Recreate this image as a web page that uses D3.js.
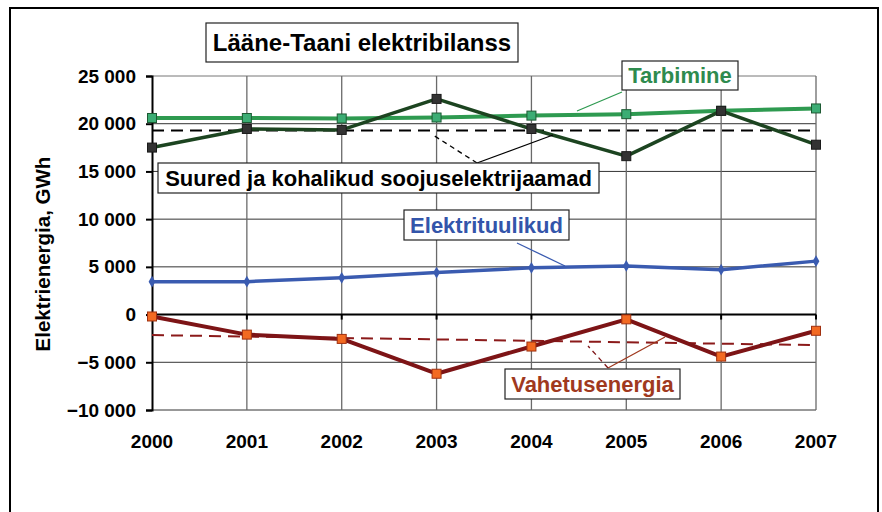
<!DOCTYPE html>
<html>
<head>
<meta charset="utf-8">
<script src="https://cdn.jsdelivr.net/npm/d3@7"></script>
<style>
  body { margin: 0; background: #fff; }
  svg { font-family: Arial, "Liberation Sans", sans-serif; font-weight: bold; }
</style>
</head>
<body>
<div id="chart"><svg></svg></div>
<script>
// data (GWh)
var years = [2000, 2001, 2002, 2003, 2004, 2005, 2006, 2007];
var tarbimine = [20600, 20600, 20550, 20650, 20850, 21000, 21350, 21600];
var soojus = [17500, 19450, 19350, 22600, 19450, 16600, 21350, 17800];
var soojusAvg = [19300, 19300];
var tuul = [3450, 3450, 3850, 4400, 4900, 5100, 4700, 5600];
var vahetus = [-200, -2100, -2550, -6200, -3350, -500, -4400, -1700];
var vahetusTrend = [-2150, -3200];
var yTicks = [25000, 20000, 15000, 10000, 5000, 0, -5000, -10000];

var width = 882, height = 512;
var svg = d3.select('#chart svg').attr('width', width).attr('height', height);

var x = d3.scalePoint().domain(years).range([152, 816]);
var y = d3.scaleLinear().domain([-10000, 25000]).range([410, 76]);

// outer frame
svg.append('rect').attr('x', 10).attr('y', 8).attr('width', 868).attr('height', 520)
  .attr('fill', 'none').attr('stroke', '#000').attr('stroke-width', 2);

// grid
svg.append('g').selectAll('line').data(yTicks).enter().append('line')
  .attr('x1', 152).attr('x2', 816)
  .attr('y1', function(d) { return y(d); }).attr('y2', function(d) { return y(d); })
  .attr('stroke', function(d) { return d === 25000 ? '#777' : '#333'; }).attr('stroke-width', 1);
svg.append('g').selectAll('line').data(years.slice(1)).enter().append('line')
  .attr('x1', function(d) { return x(d); }).attr('x2', function(d) { return x(d); })
  .attr('y1', 76).attr('y2', 410)
  .attr('stroke', '#6a6a6a').attr('stroke-width', 1.3);

// zero axis with ticks
svg.append('line').attr('x1', 152).attr('x2', 816).attr('y1', y(0)).attr('y2', y(0))
  .attr('stroke', '#000').attr('stroke-width', 2);
svg.append('g').selectAll('line').data(years).enter().append('line')
  .attr('x1', function(d) { return x(d); }).attr('x2', function(d) { return x(d); })
  .attr('y1', y(0)).attr('y2', y(0) + 5)
  .attr('stroke', '#000').attr('stroke-width', 2);

// y axis
var yAxis = d3.axisLeft(y).tickValues(yTicks).tickSize(6).tickPadding(10)
  .tickFormat(function(d) { return d3.format(',')(d).replace(/,/g, ' '); });
var gy = svg.append('g').attr('transform', 'translate(152,0)').call(yAxis);
gy.select('.domain').attr('stroke', '#000').attr('stroke-width', 2);
gy.selectAll('.tick line').attr('stroke', '#000').attr('stroke-width', 2);
gy.selectAll('.tick text').attr('font-size', 19).attr('font-weight', 'bold')
  .attr('font-family', 'Arial, "Liberation Sans", sans-serif').attr('fill', '#000');

// x labels
svg.append('g').selectAll('text').data(years).enter().append('text')
  .attr('x', function(d) { return x(d); }).attr('y', 448)
  .attr('text-anchor', 'middle').attr('font-size', 19).text(function(d) { return d; });

// y title
svg.append('text').attr('transform', 'translate(50,254) rotate(-90)')
  .attr('text-anchor', 'middle').attr('font-size', 20.5).text('Elektrienergia, GWh');

var line = d3.line().x(function(d, i) { return x(years[i]); }).y(function(d) { return y(d); });

// dashed averages / trends
svg.append('line').attr('x1', x(2000)).attr('x2', x(2007))
  .attr('y1', y(soojusAvg[0])).attr('y2', y(soojusAvg[1]))
  .attr('stroke', '#000').attr('stroke-width', 2).attr('stroke-dasharray', '12,7');
svg.append('line').attr('x1', x(2000)).attr('x2', x(2007))
  .attr('y1', y(vahetusTrend[0])).attr('y2', y(vahetusTrend[1]))
  .attr('stroke', '#8b1a1a').attr('stroke-width', 2).attr('stroke-dasharray', '12,7');

function series(vals, color, w, marker, mfill, mstroke) {
  svg.append('path').datum(vals).attr('d', line).attr('fill', 'none')
    .attr('stroke', color).attr('stroke-width', w).attr('stroke-linejoin', 'round');
  var g = svg.append('g');
  if (marker === 'square') {
    g.selectAll('rect').data(vals).enter().append('rect')
      .attr('x', function(d, i) { return x(years[i]) - 4.5; })
      .attr('y', function(d) { return y(d) - 4.5; })
      .attr('width', 9).attr('height', 9)
      .attr('fill', mfill).attr('stroke', mstroke).attr('stroke-width', 1);
  } else {
    g.selectAll('path').data(vals).enter().append('path')
      .attr('d', d3.symbol().type(d3.symbolDiamond).size(40))
      .attr('transform', function(d, i) { return 'translate(' + x(years[i]) + ',' + y(d) + ')'; })
      .attr('fill', mfill);
  }
}

series(tarbimine, '#2e9a50', 4, 'square', '#3cad74', '#1d5a33');
series(soojus, '#1c4420', 3.5, 'square', '#333', '#1a1a1a');
series(tuul, '#3a5bb0', 3.5, 'diamond', '#3a5bb0');
series(vahetus, '#7d1416', 4, 'square', '#f26a22', '#a03010');

// leader lines
function leader(x1, y1, x2, y2, color, dash) {
  svg.append('line').attr('x1', x1).attr('y1', y1).attr('x2', x2).attr('y2', y2)
    .attr('stroke', color).attr('stroke-width', 1.3).attr('stroke-dasharray', dash || null);
}
leader(622, 92, 577, 111, '#2e9a50');
leader(477, 163, 553, 135, '#000');
leader(477, 163, 433, 135, '#000', '5,4');
leader(517, 243, 565, 266, '#3a5bb0');
leader(608, 368, 665, 337, '#a0391e');
leader(608, 368, 588, 346, '#7d1416', '5,4');

// label boxes
function box(x0, y0, w, h, txt, color, size) {
  svg.append('rect').attr('x', x0).attr('y', y0).attr('width', w).attr('height', h)
    .attr('fill', '#fff').attr('stroke', '#222').attr('stroke-width', 1.2);
  svg.append('text').attr('x', x0 + w / 2).attr('y', y0 + h / 2).attr('dy', '0.36em')
    .attr('text-anchor', 'middle').attr('font-size', size).attr('fill', color).text(txt);
}
box(206, 23, 312, 39, 'Lääne-Taani elektribilanss', '#000', 24);
box(622, 61, 116, 29, 'Tarbimine', '#2e8b4e', 22);
box(158, 163, 441, 30, 'Suured ja kohalikud soojuselektrijaamad', '#000', 22);
box(404, 210, 165, 30, 'Elektrituulikud', '#3355aa', 22);
box(505, 369, 175, 30, 'Vahetusenergia', '#a0391e', 22);
</script>
</body>
</html>
